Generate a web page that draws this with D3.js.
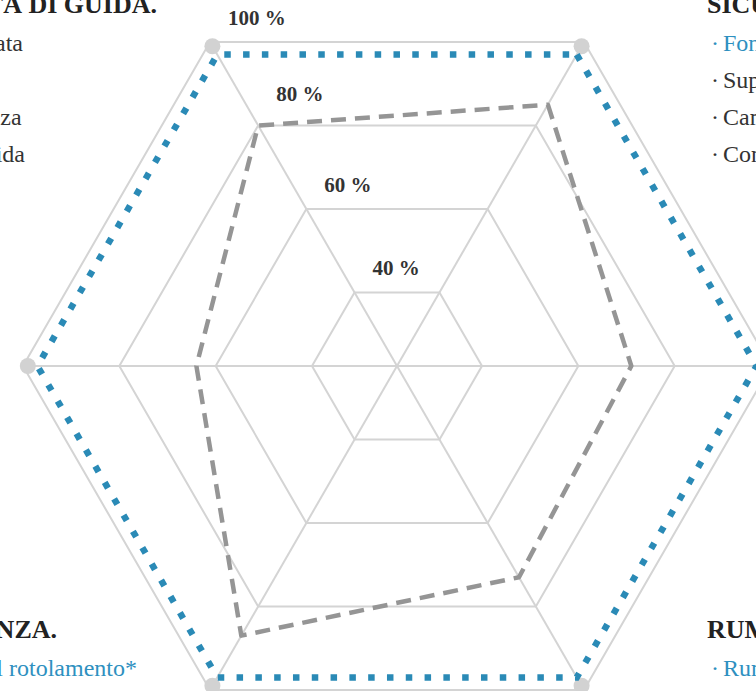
<!DOCTYPE html>
<html>
<head>
<meta charset="utf-8">
<script src="https://cdn.jsdelivr.net/npm/d3@7"></script>
<style>
  html, body { margin: 0; padding: 0; background: #fff; overflow: hidden; }
  svg { display: block; font-family: "Liberation Serif", serif; }
</style>
</head>
<body>
<div id="radar"></div>
<script>
// Axes, clockwise from the top-right corner
const axes = ['Sicurezza', 'Durata', 'Rumorosità', 'Efficienza', 'Comfort', 'Qualità di guida'];

// Series values (%)
const bestValues = [97, 97, 97, 97, 97, 97];
const testValues = [85, 71, 73, 87, 64, 80];

// Grid levels and their tick labels
const levels = [40, 60, 80, 100];
const levelLabels = ['40 %', '60 %', '80 %', '100 %'];

// Corner legends (axis index, title, items, highlighted item)
const legendAxis = [0, 2, 3, 5];
const legendTitles = ['SICUREZZA.', 'RUMOROSITÀ.', 'EFFICIENZA.', 'QUALITÀ DI GUIDA.'];
const legendItems = [
    ['Fondo bagnato', 'Superficie asciutta', 'Cambio di corsia', 'Controllo in curva'],
    ['Rumore esterno'],
    ['Resistenza al rotolamento*'],
    ['Sterzata', 'ESP', 'Potenza', 'In guida']
];
const legendHighlight = [0, 0, 0, -1];

const width = 756;
const height = 691;
const cx = 397, cy = 366;

const svg = d3.select('#radar')
    .append('svg')
    .attr('width', width)
    .attr('height', height);

// Radial scale
const r = d3.scaleLinear()
    .domain([40, 100])
    .range([85, 374]);

const angle = i => Math.PI / 6 + i * Math.PI / 3;
const px = (i, v) => cx + r(v) * Math.sin(angle(i));
const py = (i, v) => cy - r(v) * Math.cos(angle(i));

const radial = d3.lineRadial()
    .angle((d, i) => angle(i))
    .radius(d => r(d))
    .curve(d3.curveLinearClosed);

const g = svg.append('g').attr('transform', `translate(${cx},${cy})`);

// Grid hexagons
g.selectAll('.grid')
    .data(levels)
    .enter()
    .append('path')
    .attr('class', 'grid')
    .attr('d', lv => radial(axes.map(() => lv)))
    .attr('fill', 'none')
    .attr('stroke', '#d4d4d4')
    .attr('stroke-width', 2);

// Spokes
g.selectAll('.spoke')
    .data(axes)
    .enter()
    .append('line')
    .attr('class', 'spoke')
    .attr('x1', 0).attr('y1', 0)
    .attr('x2', (d, i) => px(i, 100) - cx)
    .attr('y2', (d, i) => py(i, 100) - cy)
    .attr('stroke', '#d4d4d4')
    .attr('stroke-width', 2);

// Vertex dots
g.selectAll('.dot')
    .data(axes)
    .enter()
    .append('circle')
    .attr('cx', (d, i) => px(i, 99) - cx)
    .attr('cy', (d, i) => py(i, 99) - cy)
    .attr('r', 8)
    .attr('fill', '#d2d2d2');

// Level labels, above the top edge of each hexagon
svg.selectAll('.level-label')
    .data(levels)
    .enter()
    .append('text')
    .attr('class', 'level-label')
    .attr('x', lv => px(5, lv) + 18)
    .attr('y', lv => py(5, lv) - (lv === 80 ? 25 : 17))
    .style('font-size', '21px')
    .style('font-weight', 'bold')
    .attr('fill', '#333')
    .text((lv, i) => levelLabels[i]);

// Tested series (grey dashed)
g.append('path')
    .attr('d', radial(testValues))
    .attr('fill', 'none')
    .attr('stroke', '#959595')
    .attr('stroke-width', 4.5)
    .attr('stroke-dasharray', '15 9')
    .attr('stroke-linejoin', 'round');

// Best series (blue dotted)
g.append('path')
    .attr('d', radial(bestValues))
    .attr('fill', 'none')
    .attr('stroke', '#2a8ab6')
    .attr('stroke-width', 6.5)
    .attr('stroke-dasharray', '6.5 12.3');

// Corner legends: right-hand ones start after the vertex,
// left-hand ones sit so that their lines end before it
const blue = '#2e90c0';
const titleEndOffset = { 3: -153, 5: -53 };
const itemEndOffset = { 3: -73, 5: -187 };

legendAxis.forEach((ai, k) => {
    const vx = px(ai, 100), vy = py(ai, 100);
    const right = Math.sin(angle(ai)) > 0;
    const top = vy < cy;
    const titleY = top ? vy - 29 : vy - 52;
    const block = svg.append('g');

    const title = block.append('text')
        .attr('y', titleY)
        .style('font-size', '26px')
        .style('font-weight', 'bold')
        .attr('fill', '#222')
        .text(legendTitles[k]);

    const rows = legendItems[k].map((item, j) => {
        const col = j === legendHighlight[k] ? blue : '#333';
        const y = titleY + 38 + j * 37;
        const bullet = block.append('text')
            .attr('y', y)
            .style('font-size', '24px')
            .attr('fill', col)
            .text('·');
        const label = block.append('text')
            .attr('y', y)
            .style('font-size', '24px')
            .attr('fill', col)
            .text(item);
        return { bullet, label };
    });

    let titleX, textX;
    if (right) {
        titleX = vx + 123;
        textX = titleX + 16;
    } else {
        titleX = vx + titleEndOffset[ai] - title.node().getComputedTextLength();
        textX = vx + itemEndOffset[ai] - rows[0].label.node().getComputedTextLength();
    }
    title.attr('x', titleX);
    rows.forEach(row => {
        row.bullet.attr('x', textX - 12);
        row.label.attr('x', textX);
    });
});
</script>
</body>
</html>
